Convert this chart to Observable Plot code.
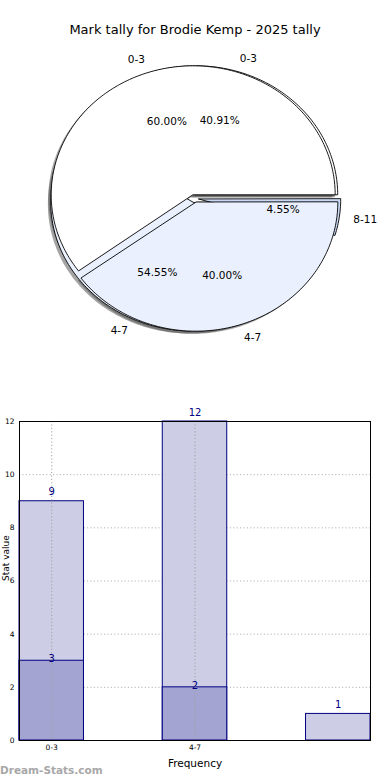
<!DOCTYPE html>
<html><head><meta charset="utf-8">
<script src="https://cdn.jsdelivr.net/npm/d3@7"></script>
<script src="https://cdn.jsdelivr.net/npm/@observablehq/plot@0.6"></script>
<style>
body{margin:0;background:#fff;font-family:"DejaVu Sans",sans-serif;}
#wrap{position:relative;width:390px;height:780px;overflow:hidden;background:#fff;}
#pie{position:absolute;top:0;left:0;}
#title{position:absolute;top:22px;left:0;width:390px;text-align:center;font-size:13px;color:#000;line-height:16px;}
#bar{position:absolute;top:400px;left:0;}
#wm{position:absolute;left:0;top:763px;font-size:10.5px;font-weight:bold;color:#a8a8a8;line-height:14px;}
svg{font-family:"DejaVu Sans",sans-serif;}
</style></head><body>
<div id="wrap"><div id="pie"></div><div id="title">Mark tally for Brodie Kemp - 2025 tally</div><div id="bar"></div><div id="wm">Dream-Stats.com</div></div>
<script>
// ---- data ----
const categories = ["0-3", "4-7", "8-11"];
const recentCounts = [3, 2, 0];    // front pie (60% / 40%), dark bars
const seasonCounts = [9, 12, 1];   // back pie (40.91% / 54.55% / 4.55%), light bars
const sliceColors = ["#ffffff", "#eaf0fd", "#c9d8f4"];
const tickLabels = ["0-3", "4-7"];
const yTicks = [0, 2, 4, 6, 8, 10, 12];

// ---- pie geometry (data units, radius 1) ----
const explode = 0.03;
function buildPie(counts, pieId) {
  const total = d3.sum(counts);
  let start = 0;
  const slices = [], labels = [], pcts = [];
  counts.forEach((c, i) => {
    if (c === 0) return;
    const frac = c / total;
    const a0 = start * 2 * Math.PI, a1 = (start + frac) * 2 * Math.PI;
    start += frac;
    const mid = (a0 + a1) / 2;
    const ox = explode * Math.cos(mid), oy = explode * Math.sin(mid);
    const n = Math.max(4, Math.ceil((a1 - a0) / 0.02));
    const pts = [{x: ox, y: oy}];
    for (let k = 0; k <= n; k++) {
      const a = a0 + (a1 - a0) * k / n;
      pts.push({x: ox + Math.cos(a), y: oy + Math.sin(a)});
    }
    slices.push({id: pieId + "-" + i, color: sliceColors[i], pts});
    labels.push({x: ox + 1.1 * Math.cos(mid), y: oy + 1.1 * Math.sin(mid), text: categories[i], right: Math.cos(mid) < 0});
    pcts.push({x: ox + 0.6 * Math.cos(mid), y: oy + 0.6 * Math.sin(mid), text: (frac * 100).toFixed(2) + "%"});
  });
  return {slices, labels, pcts};
}
const back = buildPie(seasonCounts, "b");
const front = buildPie(recentCounts, "f");
const allSlices = [...back.slices, ...front.slices];

const shadowMarks = allSlices.map(s => Plot.line(s.pts.map(p => ({x: p.x - 0.02, y: p.y - 0.02})),
  {x: "x", y: "y", curve: "linear-closed", fill: "#4a4a4a", fillOpacity: 0.5, stroke: "none"}));
const wedgeMarks = allSlices.map(s => Plot.line(s.pts,
  {x: "x", y: "y", curve: "linear-closed", fill: s.color, stroke: "#000", strokeWidth: 0.9}));
const allLabels = [...back.labels, ...front.labels];
const allPcts = [...back.pcts, ...front.pcts];

const RX = 142, RY = 129, CX = 194, CY = 198;
const pie = Plot.plot({
  width: 390, height: 400,
  margin: 0,
  x: {domain: [-CX / RX, (390 - CX) / RX], range: [0, 390], axis: null},
  y: {domain: [(CY - 400) / RY, CY / RY], range: [400, 0], axis: null},
  marks: [
    ...shadowMarks,
    ...wedgeMarks,
    Plot.text(allLabels.filter(d => !d.right), {x: "x", y: "y", text: "text", textAnchor: "start", fontSize: 10.5, fill: "#000"}),
    Plot.text(allLabels.filter(d => d.right), {x: "x", y: "y", text: "text", textAnchor: "end", fontSize: 10.5, fill: "#000"}),
    Plot.text(allPcts, {x: "x", y: "y", text: "text", fontSize: 10.5, fill: "#000"})
  ]
});
document.getElementById("pie").appendChild(pie);

// ---- bar chart ----
const barW = 0.45;
const seasonRows = categories.map((c, i) => ({i, c, v: seasonCounts[i]}));
const recentRows = categories.map((c, i) => ({i, c, v: recentCounts[i]})).filter(d => d.v > 0);
const navy = "#000080";

const bar = Plot.plot({
  width: 390, height: 380,
  marginLeft: 19, marginRight: 20, marginTop: 21, marginBottom: 40,
  x: {domain: [0, 2.45], axis: null},
  y: {domain: [0, 12], axis: null},
  marks: [
    Plot.ruleY(yTicks, {stroke: "#b4b4b4", strokeDasharray: "1.2,2.2", strokeWidth: 1}),
    Plot.rect(seasonRows, {x1: d => d.i, x2: d => d.i + barW, y1: 0, y2: "v", fill: "#cdcee5", stroke: navy, strokeWidth: 1}),
    Plot.rect(recentRows, {x1: d => d.i, x2: d => d.i + barW, y1: 0, y2: "v", fill: "#a3a4d1", stroke: navy, strokeWidth: 1}),
    Plot.ruleX(tickLabels.map((t, i) => i + barW / 2), {stroke: "#a0a0a0", strokeDasharray: "1.2,2.2", strokeWidth: 1}),
    Plot.text(seasonRows, {x: d => d.i + barW / 2, y: "v", text: d => String(d.v), dy: -9, fill: navy, fontSize: 10}),
    Plot.text(recentRows, {x: d => d.i + barW / 2, y: "v", text: d => String(d.v), dy: -1.5, fill: navy, fontSize: 10}),
    Plot.frame({stroke: "#000", strokeWidth: 1}),
    Plot.axisY({ticks: yTicks, tickSize: 0, tickPadding: 5, fontSize: 7.5, tickFormat: d => String(d), color: "#000", label: null}),
    Plot.axisX({ticks: tickLabels.map((t, i) => i + barW / 2), tickSize: 0, tickPadding: 4, fontSize: 7.5,
      tickFormat: d => tickLabels[Math.round(d - barW / 2)], label: null}),
    Plot.text(["Frequency"], {frameAnchor: "bottom", dy: 26, fontSize: 10.5, fill: "#000"}),
    Plot.text(["Stat value"], {frameAnchor: "left", rotate: -90, dx: -13, fontSize: 9, fill: "#000"})
  ]
});
document.getElementById("bar").appendChild(bar);
</script>
</body></html>
